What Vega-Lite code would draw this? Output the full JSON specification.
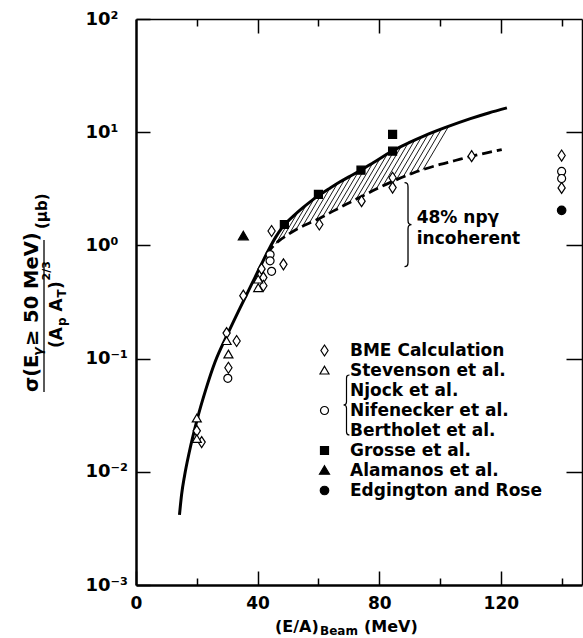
{
  "$schema": "https://vega.github.io/schema/vega-lite/v6.json",
  "width": 446,
  "height": 566,
  "autosize": {"type": "none"},
  "padding": {"left": 136, "top": 19, "right": 1, "bottom": 53},
  "background": "white",
  "config": {"view": {"stroke": null}, "axis": {"grid": false, "domainColor": "black", "tickColor": "black", "labelColor": "black"}},
  "datasets": {
    "hatch": [
      {"x": 46.0, "y": 1.033, "x2": 50.9, "y2": 1.728},
      {"x": 48.2, "y": 1.153, "x2": 53.3, "y2": 1.977},
      {"x": 50.4, "y": 1.264, "x2": 56.0, "y2": 2.270},
      {"x": 52.6, "y": 1.375, "x2": 58.6, "y2": 2.582},
      {"x": 54.8, "y": 1.476, "x2": 61.2, "y2": 2.891},
      {"x": 57.0, "y": 1.575, "x2": 63.8, "y2": 3.206},
      {"x": 59.2, "y": 1.675, "x2": 66.3, "y2": 3.537},
      {"x": 61.4, "y": 1.791, "x2": 68.7, "y2": 3.849},
      {"x": 63.6, "y": 1.926, "x2": 70.9, "y2": 4.159},
      {"x": 65.8, "y": 2.071, "x2": 73.2, "y2": 4.494},
      {"x": 68.0, "y": 2.223, "x2": 75.5, "y2": 4.892},
      {"x": 70.2, "y": 2.385, "x2": 77.9, "y2": 5.349},
      {"x": 72.4, "y": 2.557, "x2": 80.3, "y2": 5.870},
      {"x": 74.6, "y": 2.742, "x2": 82.7, "y2": 6.442},
      {"x": 76.8, "y": 2.937, "x2": 85.1, "y2": 6.982},
      {"x": 79.0, "y": 3.144, "x2": 87.2, "y2": 7.464},
      {"x": 81.2, "y": 3.350, "x2": 89.5, "y2": 7.998},
      {"x": 83.4, "y": 3.568, "x2": 91.7, "y2": 8.511},
      {"x": 85.6, "y": 3.786, "x2": 93.9, "y2": 9.054},
      {"x": 87.8, "y": 4.003, "x2": 96.1, "y2": 9.592},
      {"x": 90.0, "y": 4.232, "x2": 98.3, "y2": 10.12},
      {"x": 92.2, "y": 4.458, "x2": 100.5, "y2": 10.68},
      {"x": 94.4, "y": 4.670, "x2": 102.8, "y2": 11.25}
    ],
    "solid": [
      {"x": 14.3, "y": 0.00417}, {"x": 15, "y": 0.0063}, {"x": 16, "y": 0.00933}, {"x": 17.5, "y": 0.0148},
      {"x": 20, "y": 0.0282}, {"x": 23, "y": 0.0537}, {"x": 26, "y": 0.0933}, {"x": 30, "y": 0.162},
      {"x": 34, "y": 0.2723}, {"x": 38, "y": 0.4519}, {"x": 41, "y": 0.661}, {"x": 44, "y": 0.955},
      {"x": 46, "y": 1.189}, {"x": 48, "y": 1.429}, {"x": 50, "y": 1.641}, {"x": 52, "y": 1.841},
      {"x": 55, "y": 2.163}, {"x": 58, "y": 2.512}, {"x": 60, "y": 2.754}, {"x": 64, "y": 3.236},
      {"x": 67, "y": 3.631}, {"x": 70, "y": 4.027}, {"x": 74, "y": 4.624}, {"x": 78, "y": 5.37},
      {"x": 84, "y": 6.761}, {"x": 90, "y": 8.128}, {"x": 95, "y": 9.333}, {"x": 101.6, "y": 10.96},
      {"x": 110, "y": 13.18}, {"x": 116, "y": 14.79}, {"x": 122, "y": 16.41}
    ],
    "dashed": [
      {"x": 43, "y": 0.845}, {"x": 44.5, "y": 0.944}, {"x": 47, "y": 1.096}, {"x": 50, "y": 1.245},
      {"x": 53, "y": 1.396}, {"x": 56, "y": 1.531}, {"x": 60.5, "y": 1.738}, {"x": 65, "y": 2.018},
      {"x": 69.3, "y": 2.317}, {"x": 74, "y": 2.692}, {"x": 79.2, "y": 3.162}, {"x": 84.4, "y": 3.673},
      {"x": 91.2, "y": 4.365}, {"x": 95, "y": 4.732}, {"x": 100, "y": 5.188}, {"x": 105, "y": 5.623},
      {"x": 110, "y": 6.095}, {"x": 115, "y": 6.531}, {"x": 120.3, "y": 7.031}
    ],
    "points": [
      {"x": 20, "y": 0.023, "series": "BME Calculation"},
      {"x": 21.6, "y": 0.0183, "series": "BME Calculation"},
      {"x": 29.8, "y": 0.168, "series": "BME Calculation"},
      {"x": 30.4, "y": 0.083, "series": "BME Calculation"},
      {"x": 33.1, "y": 0.143, "series": "BME Calculation"},
      {"x": 35.3, "y": 0.36, "series": "BME Calculation"},
      {"x": 41.3, "y": 0.62, "series": "BME Calculation"},
      {"x": 41.9, "y": 0.52, "series": "BME Calculation"},
      {"x": 41.9, "y": 0.44, "series": "BME Calculation"},
      {"x": 44.6, "y": 1.34, "series": "BME Calculation"},
      {"x": 48.5, "y": 0.68, "series": "BME Calculation"},
      {"x": 60.3, "y": 1.53, "series": "BME Calculation"},
      {"x": 74.2, "y": 2.46, "series": "BME Calculation"},
      {"x": 84.4, "y": 3.96, "series": "BME Calculation"},
      {"x": 84.4, "y": 3.24, "series": "BME Calculation"},
      {"x": 110.4, "y": 6.14, "series": "BME Calculation"},
      {"x": 140, "y": 6.22, "series": "BME Calculation"},
      {"x": 140, "y": 3.22, "series": "BME Calculation"},
      {"x": 20, "y": 0.0296, "series": "Stevenson et al."},
      {"x": 20, "y": 0.0195, "series": "Stevenson et al."},
      {"x": 29.8, "y": 0.143, "series": "Stevenson et al."},
      {"x": 30.4, "y": 0.109, "series": "Stevenson et al."},
      {"x": 40.2, "y": 0.5, "series": "Stevenson et al."},
      {"x": 40.2, "y": 0.42, "series": "Stevenson et al."},
      {"x": 30.2, "y": 0.067, "series": "Nifenecker et al."},
      {"x": 44.1, "y": 0.83, "series": "Nifenecker et al."},
      {"x": 44.1, "y": 0.73, "series": "Nifenecker et al."},
      {"x": 44.6, "y": 0.59, "series": "Nifenecker et al."},
      {"x": 140, "y": 4.5, "series": "Nifenecker et al."},
      {"x": 140, "y": 3.9, "series": "Nifenecker et al."},
      {"x": 48.8, "y": 1.53, "series": "Grosse et al."},
      {"x": 60, "y": 2.82, "series": "Grosse et al."},
      {"x": 74, "y": 4.62, "series": "Grosse et al."},
      {"x": 84.4, "y": 6.8, "series": "Grosse et al."},
      {"x": 84.4, "y": 9.55, "series": "Grosse et al."},
      {"x": 35.3, "y": 1.21, "series": "Alamanos et al."},
      {"x": 140, "y": 2.04, "series": "Edgington and Rose"}
    ],
    "ytitleBig": [
      {"t": "σ(E", "x": -32.23, "y": 0.05071},
      {"t": "≥ 50 MeV)", "x": -32.23, "y": 0.1292}
    ],
    "ytitleSub": [
      {"t": "γ", "x": -30.92, "y": 0.1054}
    ],
    "denomBig": [
      {"t": "(A", "x": -24.34, "y": 0.1241},
      {"t": "A", "x": -24.34, "y": 0.2607},
      {"t": ")", "x": -24.34, "y": 0.4119}
    ],
    "denomSub": [
      {"t": "p", "x": -23.02, "y": 0.1941},
      {"t": "T", "x": -23.02, "y": 0.3465}
    ],
    "denomSup": [
      {"t": "2/3", "x": -28.29, "y": 0.4896}
    ],
    "unit": [
      {"t": "(μb)", "x": -29.27, "y": 1.396}
    ],
    "bar": [
      {"x": -30.26, "y": 0.0507, "y2": 1.116}
    ],
    "xtitleMain": [
      {"t": "(E/A)", "x": 45.72, "y": 0.001},
      {"t": "(MeV)", "x": 75.0, "y": 0.001}
    ],
    "xtitleSub": [
      {"t": "Beam", "x": 60.52, "y": 0.001}
    ],
    "note": [
      {"t": "48% npγ", "x": 92.33, "y": 1.567},
      {"t": "incoherent", "x": 92.33, "y": 1.039}
    ],
    "braceRight": [{"x": 89.47, "y": 1.524}],
    "braceLeft": [{"x": 69.24, "y": 0.0389}]
  },
  "resolve": {"axis": {"x": "independent", "y": "independent"}},
  "layer": [
    {
      "data": {"name": "hatch"},
      "mark": {"type": "rule", "color": "black", "strokeWidth": 0.9},
      "encoding": {
        "x": {"field": "x", "type": "quantitative", "scale": {"domain": [0, 146.7], "nice": false, "zero": false},
          "axis": {"orient": "bottom", "values": [0, 20, 40, 60, 80, 100, 120, 140],
            "labelExpr": "datum.value % 40 === 0 ? datum.label : ''",
            "tickSize": {"condition": {"test": "datum.value % 40 === 0", "value": -14}, "value": -7},
            "tickWidth": 1.5, "domainWidth": 2.5, "labelFont": "DejaVu Sans", "labelFontWeight": "bold",
            "labelFontSize": 17, "labelPadding": 24, "labelOverlap": false, "labelFlush": false, "title": null}},
        "y": {"field": "y", "type": "quantitative", "scale": {"type": "log", "domain": [0.001, 100], "nice": false},
          "axis": {"orient": "left", "values": [0.001, 0.01, 0.1, 1, 10, 100],
            "labelExpr": "datum.value > 50 ? '10²' : datum.value > 5 ? '10¹' : datum.value > 0.5 ? '10⁰' : datum.value > 0.05 ? '10⁻¹' : datum.value > 0.005 ? '10⁻²' : '10⁻³'",
            "tickSize": -14, "tickWidth": 1.5, "domainWidth": 2.5, "labelAlign": "left", "labelBaseline": "middle",
            "labelPadding": 65, "labelFont": "DejaVu Sans", "labelFontWeight": "bold", "labelFontSize": 18,
            "labelOverlap": false, "labelFlush": false, "title": null}},
        "x2": {"field": "x2"},
        "y2": {"field": "y2"}
      }
    },
    {
      "data": {"name": "dashed"},
      "mark": {"type": "line", "color": "black", "strokeWidth": 2.8, "strokeDash": [10, 5], "interpolate": "monotone"},
      "encoding": {
        "x": {"field": "x", "type": "quantitative", "scale": {"domain": [0, 146.7], "nice": false, "zero": false},
          "axis": {"orient": "top", "values": [20, 40, 60, 80, 100, 120, 140], "labels": false,
            "tickSize": {"condition": {"test": "datum.value % 40 === 0", "value": -14}, "value": -7},
            "tickWidth": 1.5, "domainWidth": 1.5, "title": null}},
        "y": {"field": "y", "type": "quantitative", "scale": {"type": "log", "domain": [0.001, 100], "nice": false},
          "axis": {"orient": "right", "values": [0.01, 0.1, 1, 10], "labels": false, "tickSize": -16,
            "tickWidth": 1.5, "domainWidth": 1.5, "title": null}}
      }
    },
    {
      "data": {"name": "solid"},
      "mark": {"type": "line", "color": "black", "strokeWidth": 3, "interpolate": "monotone"},
      "encoding": {
        "x": {"field": "x", "type": "quantitative", "scale": {"domain": [0, 146.7], "nice": false, "zero": false}, "axis": null},
        "y": {"field": "y", "type": "quantitative", "scale": {"type": "log", "domain": [0.001, 100], "nice": false}, "axis": null}
      }
    },
    {
      "data": {"name": "points"},
      "mark": {"type": "point", "size": 100, "strokeWidth": 1.2, "opacity": 1, "filled": true},
      "encoding": {
        "x": {"field": "x", "type": "quantitative", "scale": {"domain": [0, 146.7], "nice": false, "zero": false}, "axis": null},
        "y": {"field": "y", "type": "quantitative", "scale": {"type": "log", "domain": [0.001, 100], "nice": false}, "axis": null},
        "shape": {"field": "series", "type": "nominal",
          "scale": {"domain": ["BME Calculation", "Stevenson et al.", "Njock et al.", "Nifenecker et al.", "Bertholet et al.", "Grosse et al.", "Alamanos et al.", "Edgington and Rose"],
            "range": ["M0,-1.1L0.72,0L0,1.1L-0.72,0Z", "M0,-0.85L0.9,0.7L-0.9,0.7Z", "M0,0", "M0.8,0A0.8,0.8,0,1,1,-0.8,0A0.8,0.8,0,1,1,0.8,0Z", "M0,0", "M-0.8,-0.8L0.8,-0.8L0.8,0.8L-0.8,0.8Z", "M0,-0.95L1,0.75L-1,0.75Z", "M0.85,0A0.85,0.85,0,1,1,-0.85,0A0.85,0.85,0,1,1,0.85,0Z"]},
          "legend": {"orient": "none", "legendX": 180, "legendY": 323, "title": null, "padding": 0,
            "labelFont": "DejaVu Sans", "labelFontWeight": "bold", "labelFontSize": 17, "labelColor": "black", "labelLimit": 400,
            "symbolSize": 100, "symbolStrokeWidth": 1.2, "rowPadding": 2, "labelOffset": 17,
            "labelExpr": "indexof(['Njock et al.','Nifenecker et al.','Bertholet et al.'], datum.label) >= 0 ? '\u2005' + datum.label : datum.label"}},
        "fill": {"field": "series", "type": "nominal",
          "scale": {"domain": ["BME Calculation", "Stevenson et al.", "Njock et al.", "Nifenecker et al.", "Bertholet et al.", "Grosse et al.", "Alamanos et al.", "Edgington and Rose"],
            "range": ["white", "white", "white", "white", "white", "black", "black", "black"]},
          "legend": {"orient": "none", "legendX": 180, "legendY": 323, "title": null, "padding": 0,
            "labelFont": "DejaVu Sans", "labelFontWeight": "bold", "labelFontSize": 17, "labelColor": "black", "labelLimit": 400,
            "symbolSize": 100, "symbolStrokeWidth": 1.2, "rowPadding": 2, "labelOffset": 17,
            "labelExpr": "indexof(['Njock et al.','Nifenecker et al.','Bertholet et al.'], datum.label) >= 0 ? '\u2005' + datum.label : datum.label"}},
        "stroke": {"field": "series", "type": "nominal",
          "scale": {"domain": ["BME Calculation", "Stevenson et al.", "Njock et al.", "Nifenecker et al.", "Bertholet et al.", "Grosse et al.", "Alamanos et al.", "Edgington and Rose"],
            "range": ["black", "black", "black", "black", "black", "black", "black", "black"]},
          "legend": {"orient": "none", "legendX": 180, "legendY": 323, "title": null, "padding": 0,
            "labelFont": "DejaVu Sans", "labelFontWeight": "bold", "labelFontSize": 17, "labelColor": "black", "labelLimit": 400,
            "symbolSize": 100, "symbolStrokeWidth": 1.2, "rowPadding": 2, "labelOffset": 17,
            "labelExpr": "indexof(['Njock et al.','Nifenecker et al.','Bertholet et al.'], datum.label) >= 0 ? '\u2005' + datum.label : datum.label"}}
      }
    },
    {
      "data": {"name": "ytitleBig"},
      "mark": {"type": "text", "angle": 270, "align": "left", "baseline": "alphabetic", "font": "DejaVu Sans", "fontWeight": "bold", "fontSize": 19.5, "color": "black"},
      "encoding": {
        "x": {"field": "x", "type": "quantitative", "scale": {"domain": [0, 146.7], "nice": false, "zero": false}, "axis": null},
        "y": {"field": "y", "type": "quantitative", "scale": {"type": "log", "domain": [0.001, 100], "nice": false}, "axis": null},
        "text": {"field": "t"}
      }
    },
    {
      "data": {"name": "ytitleSub"},
      "mark": {"type": "text", "angle": 270, "align": "left", "baseline": "alphabetic", "font": "DejaVu Sans", "fontWeight": "bold", "fontStyle": "italic", "fontSize": 13, "color": "black"},
      "encoding": {
        "x": {"field": "x", "type": "quantitative", "scale": {"domain": [0, 146.7], "nice": false, "zero": false}, "axis": null},
        "y": {"field": "y", "type": "quantitative", "scale": {"type": "log", "domain": [0.001, 100], "nice": false}, "axis": null},
        "text": {"field": "t"}
      }
    },
    {
      "data": {"name": "denomBig"},
      "mark": {"type": "text", "angle": 270, "align": "left", "baseline": "alphabetic", "font": "DejaVu Sans", "fontWeight": "bold", "fontSize": 17, "color": "black"},
      "encoding": {
        "x": {"field": "x", "type": "quantitative", "scale": {"domain": [0, 146.7], "nice": false, "zero": false}, "axis": null},
        "y": {"field": "y", "type": "quantitative", "scale": {"type": "log", "domain": [0.001, 100], "nice": false}, "axis": null},
        "text": {"field": "t"}
      }
    },
    {
      "data": {"name": "denomSub"},
      "mark": {"type": "text", "angle": 270, "align": "left", "baseline": "alphabetic", "font": "DejaVu Sans", "fontWeight": "bold", "fontSize": 12, "color": "black"},
      "encoding": {
        "x": {"field": "x", "type": "quantitative", "scale": {"domain": [0, 146.7], "nice": false, "zero": false}, "axis": null},
        "y": {"field": "y", "type": "quantitative", "scale": {"type": "log", "domain": [0.001, 100], "nice": false}, "axis": null},
        "text": {"field": "t"}
      }
    },
    {
      "data": {"name": "denomSup"},
      "mark": {"type": "text", "angle": 270, "align": "left", "baseline": "alphabetic", "font": "DejaVu Sans", "fontWeight": "bold", "fontSize": 11, "color": "black"},
      "encoding": {
        "x": {"field": "x", "type": "quantitative", "scale": {"domain": [0, 146.7], "nice": false, "zero": false}, "axis": null},
        "y": {"field": "y", "type": "quantitative", "scale": {"type": "log", "domain": [0.001, 100], "nice": false}, "axis": null},
        "text": {"field": "t"}
      }
    },
    {
      "data": {"name": "unit"},
      "mark": {"type": "text", "angle": 270, "align": "left", "baseline": "alphabetic", "font": "DejaVu Sans", "fontWeight": "bold", "fontSize": 15, "color": "black"},
      "encoding": {
        "x": {"field": "x", "type": "quantitative", "scale": {"domain": [0, 146.7], "nice": false, "zero": false}, "axis": null},
        "y": {"field": "y", "type": "quantitative", "scale": {"type": "log", "domain": [0.001, 100], "nice": false}, "axis": null},
        "text": {"field": "t"}
      }
    },
    {
      "data": {"name": "bar"},
      "mark": {"type": "rule", "color": "black", "strokeWidth": 1.3},
      "encoding": {
        "x": {"field": "x", "type": "quantitative", "scale": {"domain": [0, 146.7], "nice": false, "zero": false}, "axis": null},
        "y": {"field": "y", "type": "quantitative", "scale": {"type": "log", "domain": [0.001, 100], "nice": false}, "axis": null},
        "y2": {"field": "y2"}
      }
    },
    {
      "data": {"name": "xtitleMain"},
      "mark": {"type": "text", "align": "left", "baseline": "alphabetic", "dy": 47, "font": "DejaVu Sans", "fontWeight": "bold", "fontSize": 16, "color": "black"},
      "encoding": {
        "x": {"field": "x", "type": "quantitative", "scale": {"domain": [0, 146.7], "nice": false, "zero": false}, "axis": null},
        "y": {"field": "y", "type": "quantitative", "scale": {"type": "log", "domain": [0.001, 100], "nice": false}, "axis": null},
        "text": {"field": "t"}
      }
    },
    {
      "data": {"name": "xtitleSub"},
      "mark": {"type": "text", "align": "left", "baseline": "alphabetic", "dy": 50, "font": "DejaVu Sans", "fontWeight": "bold", "fontSize": 12, "color": "black"},
      "encoding": {
        "x": {"field": "x", "type": "quantitative", "scale": {"domain": [0, 146.7], "nice": false, "zero": false}, "axis": null},
        "y": {"field": "y", "type": "quantitative", "scale": {"type": "log", "domain": [0.001, 100], "nice": false}, "axis": null},
        "text": {"field": "t"}
      }
    },
    {
      "data": {"name": "note"},
      "mark": {"type": "text", "align": "left", "baseline": "alphabetic", "font": "DejaVu Sans", "fontWeight": "bold", "fontSize": 17, "color": "black"},
      "encoding": {
        "x": {"field": "x", "type": "quantitative", "scale": {"domain": [0, 146.7], "nice": false, "zero": false}, "axis": null},
        "y": {"field": "y", "type": "quantitative", "scale": {"type": "log", "domain": [0.001, 100], "nice": false}, "axis": null},
        "text": {"field": "t"}
      }
    },
    {
      "data": {"name": "braceRight"},
      "mark": {"type": "point", "shape": "M-0.083,-1C-0.02,-1,0,-0.97,0,-0.9L0,-0.1C0,-0.03,0.03,0,0.083,0C0.03,0,0,0.03,0,0.1L0,0.9C0,0.97,-0.02,1,-0.083,1", "size": 7056, "filled": false, "fill": null, "stroke": "black", "strokeWidth": 1.3, "opacity": 1},
      "encoding": {
        "x": {"field": "x", "type": "quantitative", "scale": {"domain": [0, 146.7], "nice": false, "zero": false}, "axis": null},
        "y": {"field": "y", "type": "quantitative", "scale": {"type": "log", "domain": [0.001, 100], "nice": false}, "axis": null}
      }
    },
    {
      "data": {"name": "braceLeft"},
      "mark": {"type": "point", "shape": "M0.1,-1C0.03,-1,0,-0.97,0,-0.9L0,-0.1C0,-0.03,-0.04,0,-0.1,0C-0.04,0,0,0.03,0,0.1L0,0.9C0,0.97,0.03,1,0.1,1", "size": 3600, "filled": false, "fill": null, "stroke": "black", "strokeWidth": 1.2, "opacity": 1},
      "encoding": {
        "x": {"field": "x", "type": "quantitative", "scale": {"domain": [0, 146.7], "nice": false, "zero": false}, "axis": null},
        "y": {"field": "y", "type": "quantitative", "scale": {"type": "log", "domain": [0.001, 100], "nice": false}, "axis": null}
      }
    }
  ]
}
